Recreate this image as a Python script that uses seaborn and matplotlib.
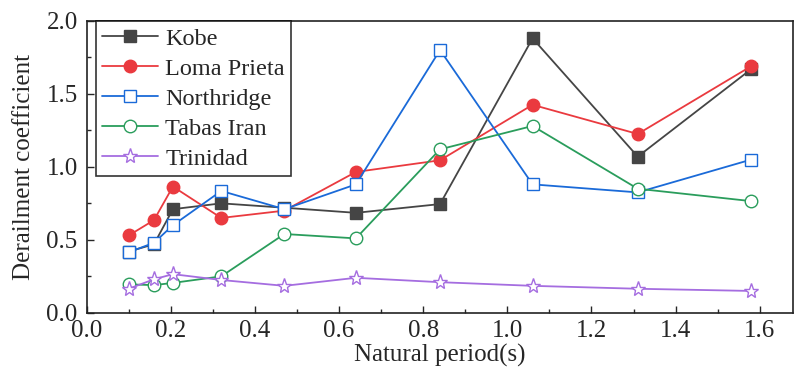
import matplotlib
matplotlib.use('Agg')
import matplotlib.pyplot as plt
from matplotlib.ticker import MultipleLocator, FormatStrFormatter
import seaborn as sns
import pandas as pd

# natural period (s) of each case
period = [0.10, 0.16, 0.205, 0.32, 0.47, 0.64, 0.84, 1.06, 1.31, 1.58]

kobe = [0.42, 0.47, 0.71, 0.75, 0.72, 0.685, 0.745, 1.88, 1.07, 1.67]
loma_prieta = [0.53, 0.635, 0.865, 0.65, 0.70, 0.965, 1.045, 1.425, 1.225, 1.69]
northridge = [0.415, 0.48, 0.60, 0.835, 0.71, 0.88, 1.80, 0.88, 0.825, 1.05]
tabas_iran = [0.195, 0.19, 0.205, 0.25, 0.54, 0.51, 1.12, 1.28, 0.85, 0.765]
trinidad = [0.165, 0.23, 0.265, 0.225, 0.185, 0.24, 0.21, 0.185, 0.165, 0.15]

series = {
    "Kobe": kobe,
    "Loma Prieta": loma_prieta,
    "Northridge": northridge,
    "Tabas Iran": tabas_iran,
    "Trinidad": trinidad,
}

# color, marker, filled?, marker size
styles = {
    "Kobe": ("#454545", "s", True, 8),
    "Loma Prieta": ("#ea3a3f", "o", True, 9),
    "Northridge": ("#1a6ad8", "s", False, 8),
    "Tabas Iran": ("#2a9d5c", "o", False, 9),
    "Trinidad": ("#a56de0", "*", False, 11),
}

sns.set_style("ticks")
plt.rcParams['font.family'] = ['Liberation Serif', 'DejaVu Serif']

fig = plt.figure(figsize=(7.95, 3.72), dpi=100)
ax = fig.add_axes([0.109, 0.159, 0.889, 0.785])

for name, vals in series.items():
    df = pd.DataFrame({"period": period, "coef": vals})
    color, marker, filled, ms = styles[name]
    sns.lineplot(data=df, x="period", y="coef", ax=ax, color=color,
                 marker=marker, markersize=ms, linewidth=1.3,
                 markerfacecolor=color if filled else "white",
                 markeredgecolor=color, markeredgewidth=1.0,
                 label=name)

ax.set_xlim(0, 1.68)
ax.set_ylim(0, 2.0)
ax.xaxis.set_major_locator(MultipleLocator(0.2))
ax.xaxis.set_minor_locator(MultipleLocator(0.1))
ax.yaxis.set_major_locator(MultipleLocator(0.5))
ax.yaxis.set_minor_locator(MultipleLocator(0.25))
ax.xaxis.set_major_formatter(FormatStrFormatter('%.1f'))
ax.yaxis.set_major_formatter(FormatStrFormatter('%.1f'))
ax.tick_params(which='both', direction='in', labelsize=18, width=1.0)
ax.tick_params(axis='x', pad=5.5)
ax.tick_params(axis='y', pad=6.5)
ax.tick_params(which='major', length=5)
ax.tick_params(which='minor', length=3)
for s in ax.spines.values():
    s.set_visible(True)
    s.set_linewidth(1.2)
    s.set_color('#222222')

ax.set_xlabel("Natural period(s)", fontsize=18, labelpad=1)
ax.set_ylabel("Derailment coefficient", fontsize=18, labelpad=8)

leg = ax.legend(loc='upper left', bbox_to_anchor=(0.013, 0.998), fontsize=17.5,
                frameon=True, fancybox=False, edgecolor='black',
                labelspacing=0.33, handlelength=2.3, handletextpad=0.3,
                borderpad=0.25, borderaxespad=0)
leg.get_frame().set_linewidth(1.2)

fig.savefig("out.png", dpi=100)
plt.close()
